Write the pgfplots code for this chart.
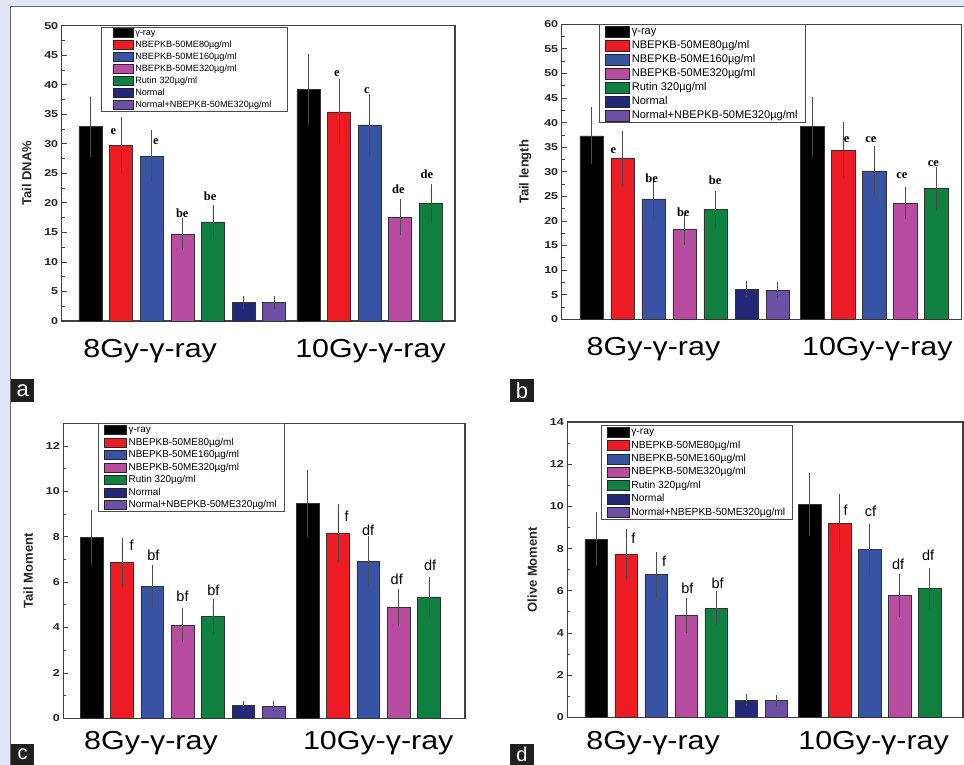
\documentclass[border=0pt]{standalone}
\usepackage{fontspec}
\setmainfont{Liberation Sans}
\newfontfamily\annserif{Liberation Serif}
\newfontfamily\widefont[FakeStretch=1.17]{Liberation Sans}
\newfontfamily\tickfont[FakeStretch=1.25]{Liberation Sans}
\usepackage{pgfplots}
\pgfplotsset{compat=1.18}
\definecolor{cblack}{RGB}{0,0,0}
\definecolor{cred}{RGB}{237,28,36}
\definecolor{cblue}{RGB}{57,83,164}
\definecolor{cpink}{RGB}{184,76,160}
\definecolor{cgreen}{RGB}{15,128,64}
\definecolor{cnavy}{RGB}{35,40,120}
\definecolor{cpurple}{RGB}{108,80,165}
\definecolor{bgl}{RGB}{226,229,243}
\tikzset{
  sannot/.style={font=\fontsize{14.5}{15}\selectfont},
  rannot/.style={font=\annserif\bfseries\fontsize{12.5}{13}\selectfont},
}
\pgfplotsset{
  panel/.style={
    scale only axis, anchor=south west,
    ybar, bar shift=0pt, bar width=0.75,
    axis line style={draw=black!75, line width=1.1pt},
    tick align=inside, ytick pos=left, xtick pos=bottom,
    major x tick style={draw=none},
    major tick length=5pt, minor tick length=3pt,
    y tick style={black!75, line width=0.8pt},
    minor y tick num=1,
    ymin=0,
    xticklabels={8Gy-γ-ray,10Gy-γ-ray},
    xticklabel style={font=\widefont\fontsize{26}{30}\selectfont},
    yticklabel style={font=\tickfont\bfseries\fontsize{10}{12}\selectfont, text=black!85},
    /pgf/number format/assume math mode=true,
    ylabel style={font=\bfseries\fontsize{13}{15}\selectfont, text=black!85},
    ylabel shift=6pt,
    legend cell align=left,
    every axis plot/.append style={draw=black!80, line width=0.5pt,
      error bars/y dir=both, error bars/y explicit,
      error bars/error mark=-,
      error bars/error bar style={black!70, line width=0.6pt},
      error bars/error mark options={black!70, mark size=3.5pt, line width=0.6pt}},
  },
}
\begin{document}
\begin{tikzpicture}[x=1pt,y=1pt]
\fill[bgl] (0,0) rectangle (964,-765);
\fill[white] (10,-7) rectangle (964,-765);
\draw[black!60, line width=1pt] (10,-765) -- (10,-6.5) -- (964,-6.5);

% ---------------- panel a
\begin{axis}[panel, at={(61.7pt,-321pt)}, width=393.3pt, height=295.3pt,
  xmin=-0.94, xmax=11.91, ymax=50, ytick distance=5,
  xtick={1.95,9.15}, ylabel={Tail DNA\%},
  xticklabel style={yshift=-15pt},
  legend image code/.code={\draw[#1, draw=black!85, line width=0.5pt] (0pt,-4.5pt) rectangle (20pt,4.5pt);},
  legend style={at={(0.101,0.997)}, anchor=north west, draw=black!70, line width=0.8pt,
    inner xsep=11pt, inner ysep=0pt, font=\fontsize{9.1}{10}\selectfont,
    nodes={text height=7.5pt, text depth=2.5pt, inner ysep=1pt, text width=139pt}},
]
\addplot[fill=cblack] coordinates {(0,32.9)+-(0,4.5) (7.12,39.2)+-(0,5.4)};
\addplot[fill=cred] coordinates {(1,29.8)+-(0,4.1) (8.12,35.4)+-(0,4.9)};
\addplot[fill=cblue] coordinates {(2,27.9)+-(0,3.8) (9.12,33.2)+-(0,4.6)};
\addplot[fill=cpink] coordinates {(3,14.7)+-(0,2.1) (10.12,17.6)+-(0,2.5)};
\addplot[fill=cgreen] coordinates {(4,16.8)+-(0,2.3) (11.12,19.9)+-(0,2.7)};
\addplot[fill=cnavy] coordinates {(5,3.2)+-(0,0.5)};
\addplot[fill=cpurple] coordinates {(6,3.1)+-(0,0.5)};
\legend{γ-ray,NBEPKB-50ME80µg/ml,NBEPKB-50ME160µg/ml,NBEPKB-50ME320µg/ml,Rutin 320µg/ml,Normal,Normal+NBEPKB-50ME320µg/ml}
\node[rannot] at (axis cs:0.75,32.05) {e};
\node[rannot] at (axis cs:2.14,30.4) {e};
\node[rannot] at (axis cs:3.0,18.2) {be};
\node[rannot] at (axis cs:3.91,21.2) {be};
\node[rannot] at (axis cs:8.05,41.9) {e};
\node[rannot] at (axis cs:9.03,39.0) {c};
\node[rannot] at (axis cs:10.06,22.3) {de};
\node[rannot] at (axis cs:10.99,24.9) {de};
\end{axis}

% ---------------- panel b
\begin{axis}[panel, at={(561.7pt,-319.3pt)}, width=400pt, height=295pt,
  xmin=-0.96, xmax=11.94, ymax=60, ytick distance=5,
  xtick={2.0,9.22}, ylabel={Tail length},
  xticklabel style={yshift=-15pt},
  legend image code/.code={\draw[#1, draw=black!85, line width=0.5pt] (0pt,-5.5pt) rectangle (24pt,5.5pt);},
  legend style={at={(0.093,1)}, anchor=north west, draw=black!70, line width=0.8pt,
    inner xsep=6pt, inner ysep=0pt, font=\fontsize{11.1}{12}\selectfont,
    nodes={text height=9pt, text depth=3pt, inner ysep=1pt}},
]
\addplot[fill=cblack] coordinates {(0,37.3)+-(0,5.1) (7.12,39.2)+-(0,5.4)};
\addplot[fill=cred] coordinates {(1,32.7)+-(0,4.8) (8.12,34.4)+-(0,5.0)};
\addplot[fill=cblue] coordinates {(2,24.5)+-(0,3.2) (9.12,30.2)+-(0,4.4)};
\addplot[fill=cpink] coordinates {(3,18.3)+-(0,2.5) (10.12,23.6)+-(0,2.5)};
\addplot[fill=cgreen] coordinates {(4,22.3)+-(0,3.1) (11.12,26.6)+-(0,3.6)};
\addplot[fill=cnavy] coordinates {(5,6.1)+-(0,0.9)};
\addplot[fill=cpurple] coordinates {(6,5.9)+-(0,0.9)};
\legend{γ-ray,NBEPKB-50ME80µg/ml,NBEPKB-50ME160µg/ml,NBEPKB-50ME320µg/ml,Rutin 320µg/ml,Normal,Normal+NBEPKB-50ME320µg/ml}
\node[rannot] at (axis cs:0.71,34.3) {e};
\node[rannot] at (axis cs:1.94,28.7) {be};
\node[rannot] at (axis cs:2.96,21.8) {be};
\node[rannot] at (axis cs:3.99,28.3) {be};
\node[rannot] at (axis cs:8.23,36.6) {e};
\node[rannot] at (axis cs:9.01,36.5) {ce};
\node[rannot] at (axis cs:10.01,29.2) {ce};
\node[rannot] at (axis cs:11.03,31.7) {ce};
\end{axis}

% ---------------- panel c
\begin{axis}[panel, at={(63.3pt,-718.3pt)}, width=401.7pt, height=295pt,
  xmin=-0.93, xmax=12.31, ymax=13, ytick={0,2,...,12},
  xtick={1.96,9.45}, ylabel={Tail Moment},
  xticklabel style={yshift=-10pt},
  legend image code/.code={\draw[#1, draw=black!85, line width=0.5pt] (0pt,-4.5pt) rectangle (22pt,4.5pt);},
  legend style={at={(0.086,1)}, anchor=north west, draw=black!70, line width=0.8pt,
    inner xsep=6pt, inner ysep=0pt, font=\fontsize{9.9}{11}\selectfont,
    nodes={text height=7.9pt, text depth=2.6pt, inner ysep=1pt}},
]
\addplot[fill=cblack] coordinates {(0,7.98)+-(0,1.05) (7.12,9.46)+-(0,1.32)};
\addplot[fill=cred] coordinates {(1,6.86)+-(0,0.92) (8.12,8.17)+-(0,1.13)};
\addplot[fill=cblue] coordinates {(2,5.80)+-(0,0.8) (9.12,6.93)+-(0,0.93)};
\addplot[fill=cpink] coordinates {(3,4.11)+-(0,0.59) (10.12,4.89)+-(0,0.66)};
\addplot[fill=cgreen] coordinates {(4,4.48)+-(0,0.62) (11.12,5.35)+-(0,0.72)};
\addplot[fill=cnavy] coordinates {(5,0.56)+-(0,0.07)};
\addplot[fill=cpurple] coordinates {(6,0.53)+-(0,0.09)};
\legend{γ-ray,NBEPKB-50ME80µg/ml,NBEPKB-50ME160µg/ml,NBEPKB-50ME320µg/ml,Rutin 320µg/ml,Normal,Normal+NBEPKB-50ME320µg/ml}
\node[sannot] at (axis cs:1.32,7.61) {f};
\node[sannot] at (axis cs:2.04,7.17) {bf};
\node[sannot] at (axis cs:3.0,5.39) {bf};
\node[sannot] at (axis cs:4.02,5.66) {bf};
\node[sannot] at (axis cs:8.41,8.89) {f};
\node[sannot] at (axis cs:9.12,8.30) {df};
\node[sannot] at (axis cs:10.06,6.13) {df};
\node[sannot] at (axis cs:11.16,6.73) {df};
\end{axis}

% ---------------- panel d
\begin{axis}[panel, at={(567.3pt,-717.3pt)}, width=395.7pt, height=295.3pt,
  xmin=-0.96, xmax=12.23, ymax=14, ytick={0,2,...,14},
  xtick={1.9,9.25}, ylabel={Olive Moment},
  xticklabel style={yshift=-11pt},
  legend image code/.code={\draw[#1, draw=black!85, line width=0.5pt] (0pt,-5pt) rectangle (22pt,5pt);},
  legend style={at={(0.085,0.99)}, anchor=north west, draw=black!70, line width=0.8pt,
    inner xsep=5.5pt, inner ysep=0pt, font=\fontsize{10.3}{11}\selectfont,
    nodes={text height=8.4pt, text depth=3pt, inner ysep=1pt}},
]
\addplot[fill=cblack] coordinates {(0,8.44)+-(0,1.12) (7.12,10.08)+-(0,1.34)};
\addplot[fill=cred] coordinates {(1,7.74)+-(0,1.04) (8.12,9.20)+-(0,1.2)};
\addplot[fill=cblue] coordinates {(2,6.76)+-(0,0.92) (9.12,7.96)+-(0,1.05)};
\addplot[fill=cpink] coordinates {(3,4.83)+-(0,0.67) (10.12,5.78)+-(0,0.84)};
\addplot[fill=cgreen] coordinates {(4,5.18)+-(0,0.65) (11.12,6.11)+-(0,0.81)};
\addplot[fill=cnavy] coordinates {(5,0.82)+-(0,0.11)};
\addplot[fill=cpurple] coordinates {(6,0.79)+-(0,0.12)};
\legend{γ-ray,NBEPKB-50ME80µg/ml,NBEPKB-50ME160µg/ml,NBEPKB-50ME320µg/ml,Rutin 320µg/ml,Normal,Normal+NBEPKB-50ME320µg/ml}
\node[sannot] at (axis cs:1.24,8.48) {f};
\node[sannot] at (axis cs:2.27,7.41) {f};
\node[sannot] at (axis cs:3.04,6.11) {bf};
\node[sannot] at (axis cs:4.05,6.35) {bf};
\node[sannot] at (axis cs:8.32,9.80) {f};
\node[sannot] at (axis cs:9.15,9.75) {cf};
\node[sannot] at (axis cs:10.07,7.25) {df};
\node[sannot] at (axis cs:11.07,7.66) {df};
\end{axis}

% panel letters
\foreach \lx/\ly/\lt in {10.7/379/a, 510/379/b}{
  \node[fill=black!88, text=white, anchor=north west, inner sep=0pt,
    minimum width=23.5pt, minimum height=23pt, font=\fontsize{22}{22}\selectfont]
    at (\lx,-\ly) {\lt};
}
\foreach \lx/\ly/\lt in {10.7/743.5/c, 510/744/d}{
  \node[fill=black!88, text=white, anchor=north west, inner sep=0pt,
    minimum width=23.5pt, minimum height=21pt, font=\fontsize{20}{20}\selectfont]
    at (\lx,-\ly) {\lt};
}
\pgfresetboundingbox
\useasboundingbox (0,0) rectangle (964,-765);
\end{tikzpicture}
\end{document}
